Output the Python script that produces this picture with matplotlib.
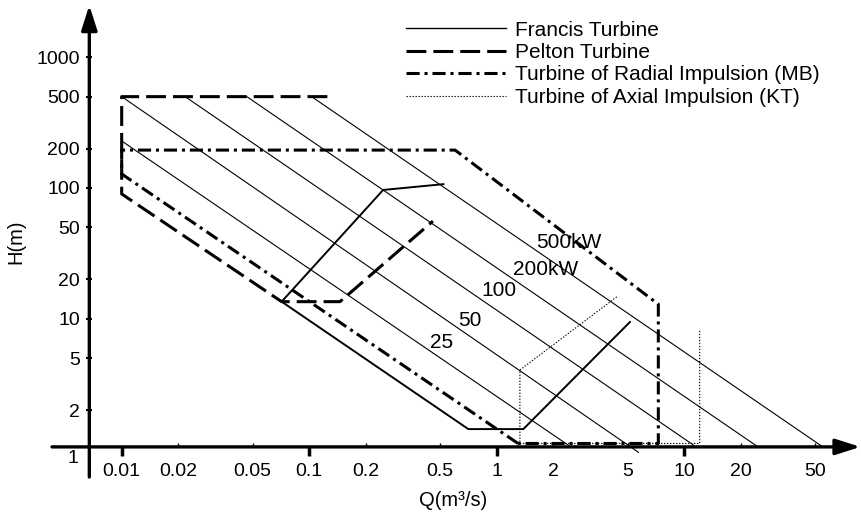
import matplotlib.pyplot as plt
from matplotlib.lines import Line2D
from matplotlib.ticker import FixedLocator, FixedFormatter

plt.rcParams['font.family'] = ['Liberation Sans', 'DejaVu Sans']

# constant power lines (Q in m3/s, H in m), endpoints
power_labels = ['25', '50', '100', '200kW', '500kW']
power_q0 = [0.01, 0.01, 0.0218, 0.0465, 0.103]
power_h0 = [229, 500, 500, 500, 500]
power_q1 = [2.45, 5.7, 11.2, 24.4, 54.1]
power_h1 = [1.06, 0.95, 1.08, 1.06, 1.06]
label_q = [0.506, 0.716, 1.03, 1.83, 2.43]
label_h = [6.58, 9.64, 16.3, 24.0, 38.3]

# turbine application ranges
francis_q = [0.52, 0.248, 0.0713, 0.706, 1.387, 5.14]
francis_h = [107, 96.6, 13.5, 1.43, 1.43, 9.44]

pelton_q = [0.125, 0.01, 0.01, 0.0713, 0.146, 0.457]
pelton_h = [500, 500, 90, 13.5, 13.5, 55.8]

radial_q = [1.3, 0.01, 0.01, 0.6, 7.28, 7.28, 1.3]
radial_h = [1.11, 128, 195, 195, 12.9, 1.11, 1.11]

axial_q = [4.37, 1.33, 1.33, 12.1, 12.1]
axial_h = [14.7, 4.05, 1.11, 1.11, 8.2]

legend_names = ['Francis Turbine', 'Pelton Turbine',
                'Turbine of Radial Impulsion (MB)', 'Turbine of Axial Impulsion (KT)']

x_major = [0.01, 0.1, 1, 10]
x_major_labels = ['0.01', '0.1', '1', '10']
x_minor = [0.02, 0.05, 0.2, 0.5, 2, 5, 20, 50]
x_minor_labels = ['0.02', '0.05', '0.2', '0.5', '2', '5', '20', '50']
y_ticks = [2, 5, 10, 20, 50, 100, 200, 500, 1000]
y_labels = ['2', '5', '10', '20', '50', '100', '200', '500', '1000']

W, H = 862, 516
fig = plt.figure(figsize=(W / 100, H / 100), dpi=100)
ax = fig.add_axes([0, 0, 1, 1])
ax.set_xscale('log')
ax.set_yscale('log')
ax.set_xlim(0.002244, 88.8)
ax.set_ylim(0.3093, 2744)

# axes as arrows, crossing near (0.0067, 1.045)
x0, y0 = 0.00672, 1.045
for s in ax.spines.values():
    s.set_visible(False)
ax.spines['left'].set_position(('data', x0))
ax.spines['bottom'].set_position(('data', y0))
arrow = dict(arrowstyle='-|>,head_length=0.75,head_width=0.24', mutation_scale=20,
             lw=2.4, color='black', shrinkA=0, shrinkB=0)
ax.annotate('', xy=(x0, 2500), xytext=(x0, 0.615), arrowprops=arrow, annotation_clip=False)
ax.annotate('', xy=(87, y0), xytext=(0.00425, y0), arrowprops=arrow, annotation_clip=False)

ax.xaxis.set_major_locator(FixedLocator(x_major))
ax.xaxis.set_major_formatter(FixedFormatter(x_major_labels))
ax.xaxis.set_minor_locator(FixedLocator(x_minor))
ax.xaxis.set_minor_formatter(FixedFormatter(x_minor_labels))
ax.yaxis.set_major_locator(FixedLocator(y_ticks))
ax.yaxis.set_major_formatter(FixedFormatter(y_labels))
ax.yaxis.set_minor_locator(FixedLocator([]))
ax.tick_params(axis='x', which='major', direction='out', length=6.5, width=2.5,
               pad=4.8, labelsize=14)
ax.tick_params(axis='x', which='minor', direction='in', length=3, width=1,
               pad=11.3, labelsize=14)
ax.tick_params(axis='y', which='major', direction='inout', length=4.5, width=1.5,
               pad=4.5, labelsize=14)
ax.text(0.00585, 0.859, '1', fontsize=14, ha='right', va='center')

# power lines
for i in range(len(power_labels)):
    ax.plot([power_q0[i], power_q1[i]], [power_h0[i], power_h1[i]],
            color='black', lw=0.8, clip_on=False)
    ax.text(label_q[i], label_h[i], power_labels[i], fontsize=15, ha='center', va='center')

ax.plot(francis_q, francis_h, color='black', lw=1.4, solid_joinstyle='miter')
ax.plot(pelton_q, pelton_h, color='black', lw=2.2, dashes=(6.5, 2.3))
ax.plot(radial_q, radial_h, color='black', lw=2.2, dashes=(4.3, 1.6, 1.0, 1.6))
ax.plot(axial_q, axial_h, color='black', lw=0.8, dashes=(1.2, 1.5))

# legend drawn by hand
styles = [dict(lw=1.0), dict(lw=2.2, dashes=(6.5, 2.3)),
          dict(lw=2.2, dashes=(4.3, 1.6, 1.0, 1.6)), dict(lw=0.8, dashes=(1.2, 1.5))]
rows = [28, 50.5, 73, 95.5]
for name, st, py in zip(legend_names, styles, rows):
    fig.add_artist(Line2D([406 / W, 506 / W], [1 - py / H, 1 - py / H],
                          transform=fig.transFigure, color='black', **st))
    fig.text(515 / W, 1 - (py + 7.5) / H, name, fontsize=15, va='baseline', ha='left')

fig.text(16 / W, 1 - 242 / H, 'H(m)', fontsize=14.5, rotation=90, ha='center', va='center')
fig.text(453 / W, 1 - 500 / H, 'Q(m³/s)', fontsize=14.5, ha='center', va='center')

fig.savefig('out.png', dpi=100)
